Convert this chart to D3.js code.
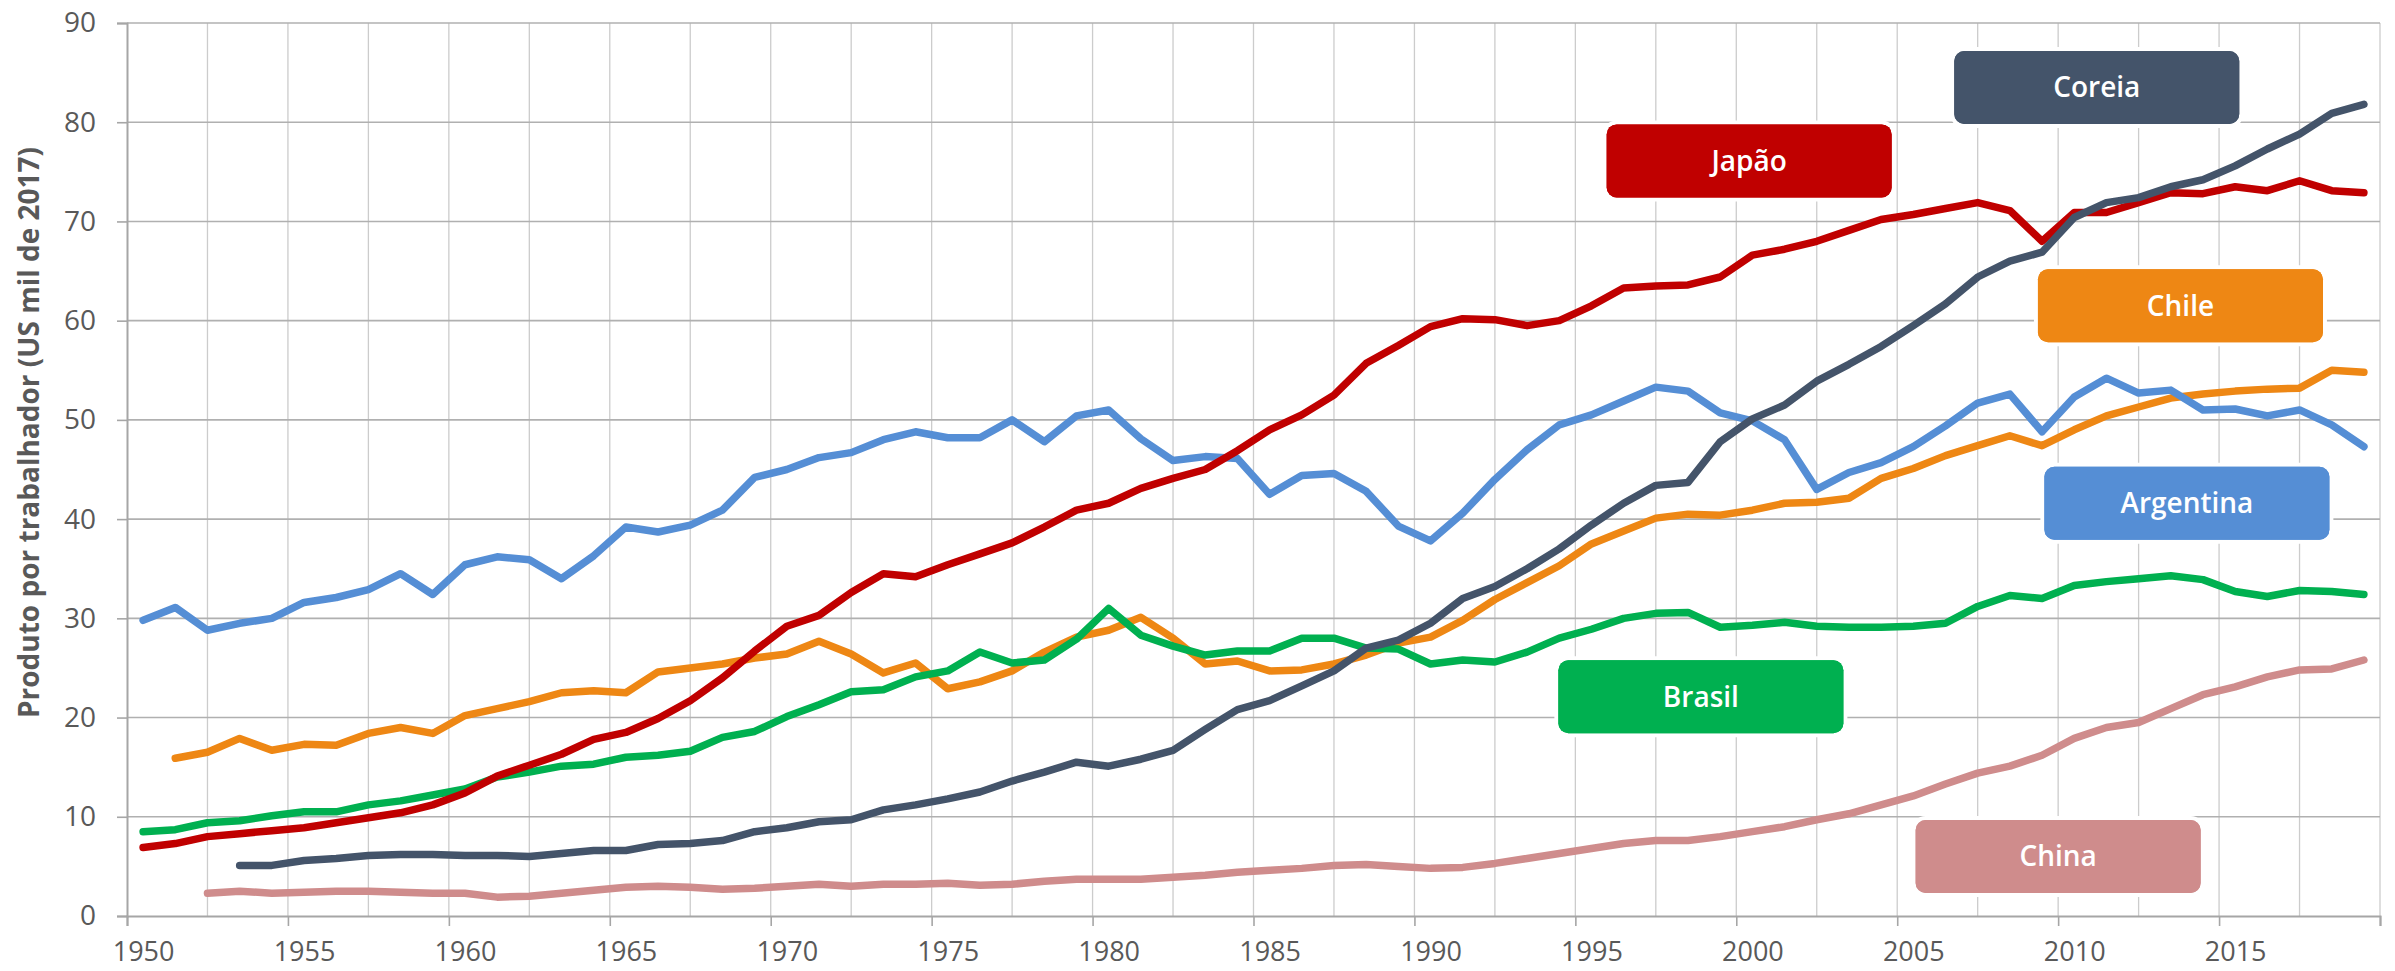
<!DOCTYPE html>
<html>
<head>
<meta charset="utf-8">
<script src="https://cdn.jsdelivr.net/npm/d3@7"></script>
<style>
  body { margin: 0; background: #fff; }
  svg { display: block; }
</style>
</head>
<body>
<div id="chart"></div>
<script>
// Produto por trabalhador, 1950-2019 (US mil de 2017)
const years = d3.range(1950, 2020);

// null = sem dado nesse ano
const japao = [6.9, 7.3, 8.0, 8.3, 8.6, 8.9, 9.4, 9.9, 10.4, 11.2,
  12.4, 14.1, 15.2, 16.3, 17.8, 18.5, 19.9, 21.7, 24.0, 26.7,
  29.2, 30.3, 32.6, 34.5, 34.2, 35.4, 36.5, 37.6, 39.2, 40.9,
  41.6, 43.1, 44.1, 45.0, 46.9, 49.0, 50.5, 52.5, 55.7, 57.5,
  59.4, 60.2, 60.1, 59.5, 60.0, 61.5, 63.3, 63.5, 63.6, 64.4,
  66.6, 67.2, 68.0, 69.1, 70.2, 70.7, 71.3, 71.9, 71.1, 68.0,
  70.9, 70.9, 71.9, 72.9, 72.8, 73.5, 73.1, 74.1, 73.1, 72.9];

const coreia = [null, null, null, 5.1, 5.1, 5.6, 5.8, 6.1, 6.2, 6.2,
  6.1, 6.1, 6.0, 6.3, 6.6, 6.6, 7.2, 7.3, 7.6, 8.5,
  8.9, 9.5, 9.7, 10.7, 11.2, 11.8, 12.5, 13.6, 14.5, 15.5,
  15.1, 15.8, 16.7, 18.8, 20.8, 21.7, 23.2, 24.7, 27.0, 27.8,
  29.5, 32.0, 33.2, 35.0, 37.0, 39.4, 41.6, 43.4, 43.7, 47.8,
  50.1, 51.5, 53.9, 55.6, 57.4, 59.5, 61.7, 64.4, 66.0, 66.9,
  70.4, 71.9, 72.4, 73.5, 74.2, 75.6, 77.3, 78.8, 80.9, 81.8];

const chile = [null, 15.9, 16.5, 17.9, 16.7, 17.3, 17.2, 18.4, 19.0, 18.4,
  20.2, 20.9, 21.6, 22.5, 22.7, 22.5, 24.6, 25.0, 25.4, 26.0,
  26.4, 27.7, 26.4, 24.5, 25.5, 22.9, 23.6, 24.7, 26.6, 28.1,
  28.8, 30.1, 28.0, 25.4, 25.7, 24.7, 24.8, 25.4, 26.3, 27.5,
  28.1, 29.8, 31.9, 33.6, 35.3, 37.5, 38.8, 40.1, 40.5, 40.4,
  40.9, 41.6, 41.7, 42.1, 44.1, 45.1, 46.4, 47.4, 48.4, 47.4,
  49.0, 50.4, 51.3, 52.2, 52.6, 52.9, 53.1, 53.2, 55.0, 54.8];

const argentina = [29.8, 31.1, 28.8, 29.5, 30.0, 31.6, 32.1, 32.9, 34.5, 32.4,
  35.4, 36.2, 35.9, 34.0, 36.3, 39.2, 38.7, 39.4, 40.9, 44.2,
  45.0, 46.2, 46.7, 48.0, 48.8, 48.2, 48.2, 50.0, 47.8, 50.4,
  51.0, 48.1, 45.9, 46.3, 46.1, 42.5, 44.4, 44.6, 42.8, 39.3,
  37.8, 40.6, 44.0, 47.0, 49.5, 50.5, 51.9, 53.3, 52.9, 50.7,
  49.9, 48.0, 43.0, 44.7, 45.7, 47.3, 49.4, 51.7, 52.6, 48.8,
  52.3, 54.2, 52.7, 53.0, 51.0, 51.1, 50.4, 51.0, 49.5, 47.3];

const brasil = [8.5, 8.7, 9.4, 9.6, 10.1, 10.5, 10.5, 11.2, 11.6, 12.2,
  12.8, 14.0, 14.5, 15.1, 15.3, 16.0, 16.2, 16.6, 18.0, 18.6,
  20.1, 21.3, 22.6, 22.8, 24.1, 24.7, 26.6, 25.5, 25.8, 27.9,
  31.0, 28.3, 27.2, 26.3, 26.7, 26.7, 28.0, 28.0, 27.0, 26.9,
  25.4, 25.8, 25.6, 26.6, 28.0, 28.9, 30.0, 30.5, 30.6, 29.1,
  29.3, 29.6, 29.2, 29.1, 29.1, 29.2, 29.5, 31.2, 32.3, 32.0,
  33.3, 33.7, 34.0, 34.3, 33.9, 32.7, 32.2, 32.8, 32.7, 32.4];

const china = [null, null, 2.3, 2.5, 2.3, 2.4, 2.5, 2.5, 2.4, 2.3,
  2.3, 1.9, 2.0, 2.3, 2.6, 2.9, 3.0, 2.9, 2.7, 2.8,
  3.0, 3.2, 3.0, 3.2, 3.2, 3.3, 3.1, 3.2, 3.5, 3.7,
  3.7, 3.7, 3.9, 4.1, 4.4, 4.6, 4.8, 5.1, 5.2, 5.0,
  4.8, 4.9, 5.3, 5.8, 6.3, 6.8, 7.3, 7.6, 7.6, 8.0,
  8.5, 9.0, 9.7, 10.3, 11.2, 12.1, 13.3, 14.4, 15.1, 16.2,
  17.9, 19.0, 19.5, 20.9, 22.3, 23.1, 24.1, 24.8, 24.9, 25.8];

const series = [
  { name: 'China', values: china, color: '#CF8C8C', labelYear: 2009.5, labelValue: 6.0 },
  { name: 'Chile', values: chile, color: '#EE8714', labelYear: 2013.3, labelValue: 61.5 },
  { name: 'Brasil', values: brasil, color: '#00B050', labelYear: 1998.4, labelValue: 22.1 },
  { name: 'Argentina', values: argentina, color: '#558ED5', labelYear: 2013.5, labelValue: 41.6 },
  { name: 'Japão', values: japao, color: '#C00000', labelYear: 1999.9, labelValue: 76.1 },
  { name: 'Coreia', values: coreia, color: '#44546A', labelYear: 2010.7, labelValue: 83.5 }
];

const yTicks = d3.range(0, 91, 10);
const xLabelYears = d3.range(1950, 2016, 5);

const width = 2395, height = 971;
const margin = { top: 23, right: 15, bottom: 55, left: 127 };
const font = '"Open Sans", sans-serif';

const x = d3.scaleLinear()
  .domain([1949.5, 2019.5])
  .range([margin.left, width - margin.right]);
const y = d3.scaleLinear()
  .domain([0, 90])
  .range([height - margin.bottom, margin.top]);

const svg = d3.select('#chart').append('svg')
  .attr('width', width)
  .attr('height', height);

// grade vertical a cada 2,5 anos
svg.append('g')
  .selectAll('line')
  .data(d3.range(1949.5 + 2.5, 2019.6, 2.5))
  .join('line')
  .attr('x1', d => x(d)).attr('x2', d => x(d))
  .attr('y1', y(90)).attr('y2', y(0))
  .attr('stroke', '#cccccc')
  .attr('stroke-width', 1.3);

// grade horizontal
svg.append('g')
  .selectAll('line')
  .data(yTicks.filter(d => d > 0))
  .join('line')
  .attr('x1', x(1949.5)).attr('x2', x(2019.5))
  .attr('y1', d => y(d)).attr('y2', d => y(d))
  .attr('stroke', '#b0b0b0')
  .attr('stroke-width', 1.6);

// eixo y
const yAxis = svg.append('g')
  .attr('transform', `translate(${margin.left},0)`)
  .call(d3.axisLeft(y).tickValues(yTicks).tickSize(10).tickPadding(21));
yAxis.select('.domain').attr('stroke', '#a6a6a6').attr('stroke-width', 2);
yAxis.selectAll('.tick line').attr('stroke', '#a6a6a6').attr('stroke-width', 1.6);
yAxis.selectAll('text')
  .attr('fill', '#595959')
  .style('font-family', font)
  .style('font-size', '28px');

// eixo x: marcas entre categorias, rótulos no centro
const xTicksAxis = svg.append('g')
  .attr('transform', `translate(0,${y(0)})`)
  .call(d3.axisBottom(x).tickValues(d3.range(1949.5, 2019.6, 5)).tickSize(10).tickFormat(''));
xTicksAxis.select('.domain').attr('stroke', '#a6a6a6').attr('stroke-width', 2);
xTicksAxis.selectAll('.tick line').attr('stroke', '#a6a6a6').attr('stroke-width', 1.6);

const xLabels = svg.append('g')
  .attr('transform', `translate(0,${y(0)})`)
  .call(d3.axisBottom(x).tickValues(xLabelYears).tickSize(0).tickPadding(26).tickFormat(d3.format('d')));
xLabels.select('.domain').remove();
xLabels.selectAll('text')
  .attr('fill', '#595959')
  .style('font-family', font)
  .style('font-size', '27px');

// título do eixo y
svg.append('text')
  .attr('transform', `translate(28,${(y(0) + y(90)) / 2 - 37}) rotate(-90)`)
  .attr('text-anchor', 'middle')
  .attr('dominant-baseline', 'central')
  .attr('fill', '#595959')
  .style('font-family', font)
  .style('font-weight', 700)
  .style('font-size', '28px')
  .text('Produto por trabalhador (US mil de 2017)');

// linhas
const line = d3.line()
  .defined(d => d.v != null)
  .x(d => x(d.year))
  .y(d => y(d.v));

svg.append('g')
  .selectAll('path')
  .data(series)
  .join('path')
  .attr('fill', 'none')
  .attr('stroke', d => d.color)
  .attr('stroke-width', 7.5)
  .attr('stroke-linejoin', 'round')
  .attr('stroke-linecap', 'round')
  .attr('d', d => line(years.map((yr, i) => ({ year: yr, v: d.values[i] }))));

// rótulos em caixas
const boxW = 285, boxH = 73;
const labels = svg.append('g')
  .selectAll('g')
  .data(series)
  .join('g')
  .attr('transform', d => `translate(${x(d.labelYear)},${y(d.labelValue)})`);

labels.append('rect')
  .attr('x', -boxW / 2).attr('y', -boxH / 2)
  .attr('width', boxW).attr('height', boxH)
  .attr('rx', 10)
  .attr('fill', d => d.color)
  .attr('stroke', '#fff')
  .attr('stroke-width', 8)
  .attr('paint-order', 'stroke');

labels.append('rect')
  .attr('x', -boxW / 2).attr('y', -boxH / 2)
  .attr('width', boxW).attr('height', boxH)
  .attr('rx', 10)
  .attr('fill', d => d.color);

labels.append('text')
  .attr('text-anchor', 'middle')
  .attr('y', 10)
  .attr('fill', '#fff')
  .style('font-family', font)
  .style('font-weight', 600)
  .style('font-size', '28px')
  .text(d => d.name);
</script>
</body>
</html>
